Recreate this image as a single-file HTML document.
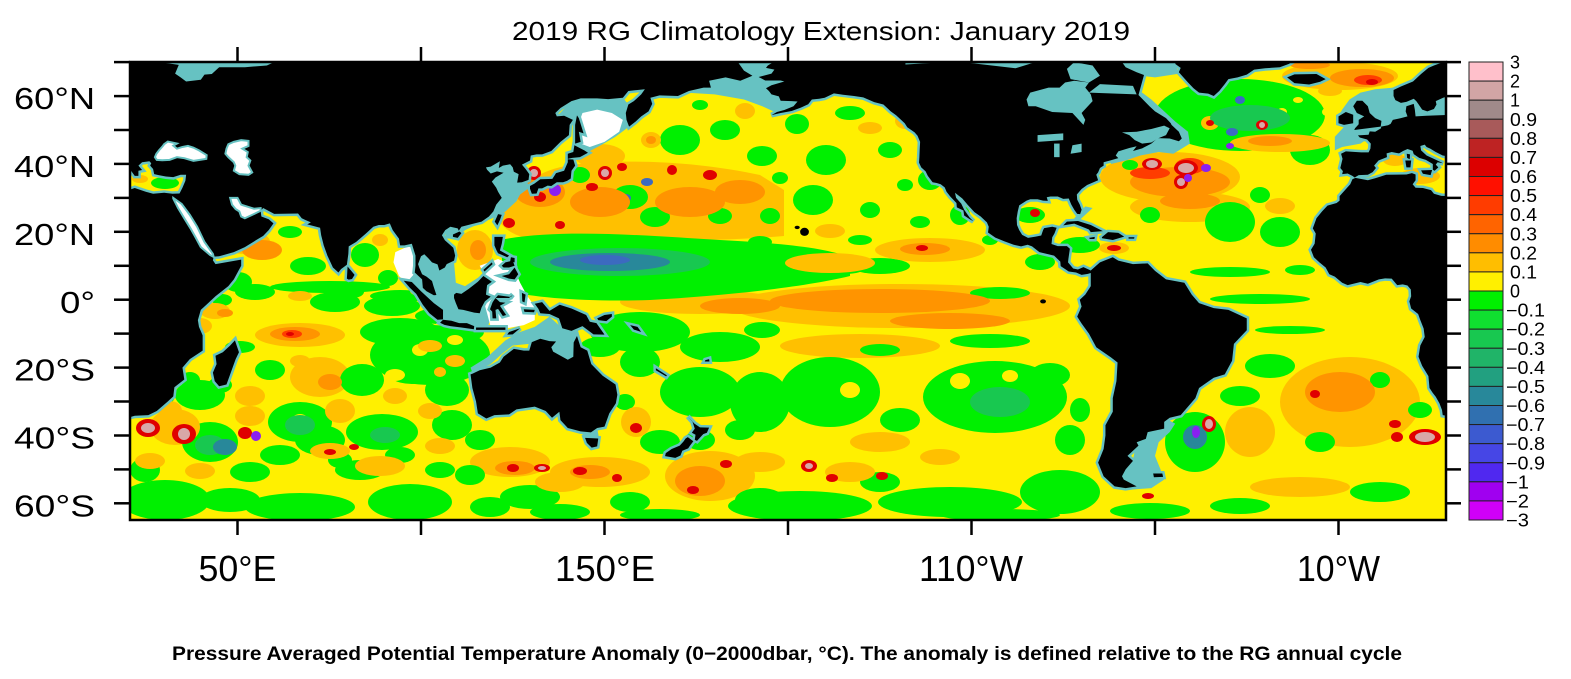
<!DOCTYPE html>
<html><head><meta charset="utf-8"><style>
html,body{margin:0;padding:0;background:#fff;}
svg{display:block}
.a{fill:#FFC000}.o{fill:#FF9400}.r3{fill:#FF3C00}.rd{fill:#E00000}.pk{fill:#D8A8A8}.v{fill:#8A20F0}
.g{fill:#00F000}.g2{fill:#18C850}.g5{fill:#28889A}.g6{fill:#3C6AC0}.yy{fill:#FFF000}
</style></head><body>
<svg width="1571" height="679" viewBox="0 0 1571 679" xmlns="http://www.w3.org/2000/svg" font-family="'Liberation Sans', sans-serif">
<defs>
<clipPath id="mc"><rect x="130" y="62" width="1316" height="458"/></clipPath>
<g id="land">
<polygon vector-effect="non-scaling-stroke" points="15,72 185,72 188,67.5 190.3,66 187,64.5 183,65.5 178.5,64.5 179,62.5 177,62.5 173,61.5 170,60 165,60.2 162.5,59.5 163,57.7 162,55.5 160,54 158.5,52.5 156.7,51 156,53 155.8,55 156.5,57.5 158,58.5 160,60.5 161,62 159,61.8 156.5,61.5 155,59.5 151,59.1 148,59.3 143.5,59.3 141,58.5 138,56.5 136.6,55 137,54 139,54.2 141.4,53 140.5,51.5 140.3,48.5 138,46.5 135.5,43.8 133,42.8 131.5,42.8 129.9,42.5 129.7,41 127.5,39.8 128.5,38.5 129.5,37 129.3,35.3 127.5,34.6 126.2,34.5 126.6,37 125.3,37.7 125,39 124.3,39.9 122.3,39.5 121.2,38.8 121.5,40.8 119,39.2 117.7,39 118,38.3 119,37.2 120.7,37.8 122.5,37.4 120.3,36 119.3,34.8 120.5,33 121,31.8 122,30 120.5,28 119.7,26 118.5,24.5 116.5,23 113.5,22.2 111,21.5 110.3,20.3 110,21 108,21.5 106.6,20.5 105.7,19 106.5,17.5 108.8,15.3 109.3,13 109,11.5 107,10.5 106.5,9.5 105,8.6 104.5,10.4 103,11 102,12.2 100.9,13.4 100,12.8 99.2,10.5 99.5,9.5 100.3,7.5 101.5,6.8 103,5.5 103.4,4 104.2,1.4 103.5,1.3 101.5,2.5 100.5,3.5 100.3,6 98.3,8 98.5,10 98.5,13 97.5,16.5 95.5,16 94.3,16 94,18 92.3,20.5 91.5,22.5 90,22 88.5,22 87,21.5 85,19.5 82.3,17 80.3,15.7 80.2,13.5 79.8,10.3 78.2,9 77.5,8 76,9.5 74.5,13 73.5,16 72.8,19 72.5,21.2 69,22.2 70,22.8 68.5,23.5 67.5,24 66.5,25.4 60,25.3 57,27 56.3,26.2 56.5,24.5 58.5,23.7 59.8,22.5 58.5,20.5 57,18.8 55,17.5 52,15.5 49,14 45,12.8 43.5,12.7 43.3,11.6 44,10.5 51,11.8 51,10 49,6 47.5,4 44,1 42,-1 40,-3 39.2,-6 39.5,-8 40.5,-10.5 40.5,-15 37,-17.5 35,-20 35.5,-23.5 32.8,-25.8 32.5,-28.5 31,-30 28,-32.8 25.7,-34 22,-34.2 20,-34.8 15,-34.8 15,32.2 20,32.2 22,32.9 25,31.8 27,31.2 30,31.5 32.3,31.2 34.2,31.3 35,33 35.8,35 36,36.8 34.5,36.8 32.5,36.1 30.5,36.3 28.5,36.7 27.3,37 27,38.5 26.2,39.5 26.5,40.2 26,40.8 24,40.5 23,39.5 24,38.2 23,38 23,36.5 22,36.5 21,38 20,39.5 15,39.5"/>
<polygon vector-effect="non-scaling-stroke" points="49.3,-12 50.4,-15.5 49.5,-17.5 48.5,-20.5 47,-25 45,-25.5 43.8,-24 43.3,-21.5 44.3,-19 44,-16.5 46,-15.5 48,-13.5"/>
<polygon vector-effect="non-scaling-stroke" points="79.8,6.2 80,9.8 81,8.5 81.9,7.3 81.2,6.1 80.3,5.9"/>
<polygon vector-effect="non-scaling-stroke" points="95.3,5.6 97.5,5.2 100,2.5 103.5,-1 106,-3 106,-5.8 104.5,-5.9 102.3,-4 100.5,-1.5 98.7,1.7 97,3.5"/>
<polygon vector-effect="non-scaling-stroke" points="105.2,-6.8 106,-5.9 108.3,-6.2 110.4,-6.9 112.5,-6.9 114.5,-7.8 114.4,-8.7 111,-8.2 108,-7.8 106.4,-7.4"/>
<polygon vector-effect="non-scaling-stroke" points="115,-8.2 119,-8.2 123,-8.2 123,-8.9 119,-8.9 115,-8.9"/>
<polygon vector-effect="non-scaling-stroke" points="124,-9.5 127,-8.4 125,-10.2 123.5,-10.3"/>
<polygon vector-effect="non-scaling-stroke" points="109,1.5 109.6,2 111,1.7 113,3.2 115.5,5.3 117,7 119.3,5.3 118,4.3 117.7,1.5 119,0.9 117.4,-0.5 116.5,-2.3 116,-4 114.5,-3.8 111.5,-3 110.2,-2.8 109.5,-1 109,0.5"/>
<polygon vector-effect="non-scaling-stroke" points="119.5,-5.5 120.5,-5.5 120.3,-3 121,-2.7 122.3,-4.8 123.2,-4.5 121.5,-1.8 123,-0.9 121.5,-0.7 120.3,0.5 124,0.5 125,1.5 124.5,0.8 121,1.3 120.1,0.2 119.5,-0.8 118.8,-2.8 119.4,-3.5"/>
<polygon vector-effect="non-scaling-stroke" points="127.5,2 128.5,1.5 128.2,-0.8 127.6,-0.5"/>
<polygon vector-effect="non-scaling-stroke" points="128,-2.8 131,-3 130.8,-3.7 128.2,-3.6"/>
<polygon vector-effect="non-scaling-stroke" points="120,18.5 122.3,18.5 122,16.5 121.5,14.5 124,13 123.5,12.5 121,13.7 120.6,14.5 120,16"/>
<polygon vector-effect="non-scaling-stroke" points="122,7 124,7.5 125.5,9.5 126.5,7.5 125.5,6 124,6.2"/>
<polygon vector-effect="non-scaling-stroke" points="122,10 123,11 125,11.5 125.5,10 124,9.5 122.5,9.5"/>
<polygon vector-effect="non-scaling-stroke" points="124.5,12.5 125.5,12.3 125.5,11 124.3,11.3"/>
<polygon vector-effect="non-scaling-stroke" points="117.3,8.3 119.5,10.5 119.3,11 117,8.8"/>
<polygon vector-effect="non-scaling-stroke" points="131,-1.2 133,-0.7 135,-3.3 137.8,-1.5 141,-2.6 145,-4.5 146,-6.5 147.8,-6.9 150,-10.3 147,-10.2 144,-7.8 141,-9.2 138.5,-8.4 137.6,-5.5 135,-4.2 132.5,-4 132,-2.7"/>
<polygon vector-effect="non-scaling-stroke" points="148,-5.5 150,-4.5 152,-4.2 152,-5 150.5,-6.3 148.3,-6"/>
<polygon vector-effect="non-scaling-stroke" points="157,-7.5 159,-8 160,-9.5 158,-8.8"/>
<polygon vector-effect="non-scaling-stroke" points="164,-20.2 167,-22.3 166.8,-22.6 164,-20.8"/>
<polygon vector-effect="non-scaling-stroke" points="177.5,-17.8 178.5,-17.5 178.6,-18.2 177.3,-18.2"/>
<polygon vector-effect="non-scaling-stroke" points="113.5,-22 114,-26 115,-30 115.5,-33.5 117.8,-35 120,-34 124,-33.8 126,-32.3 131,-31.5 134,-32.8 135.7,-34.8 137.7,-33 138,-35.5 140,-37.8 143.5,-38.8 146.3,-39.1 148,-37.8 150,-37.4 151.3,-33.5 153.1,-30.5 153.5,-28 153,-25 151,-23.5 149.5,-22.4 146.4,-19 145.3,-15 143.5,-14 142.5,-10.7 141.6,-12.6 141.5,-16.8 140,-17.7 136,-15.3 135.5,-14 136.8,-12.3 135,-12.2 132.5,-11.5 130.2,-12.5 129.5,-15 128,-15 125.3,-14.5 122.5,-16.8 121.5,-18.5 119,-20 116,-20.8 114,-21.8"/>
<polygon vector-effect="non-scaling-stroke" points="144.7,-40.7 148.3,-40.9 148,-43.2 146.5,-43.6 145.2,-42.2"/>
<polygon vector-effect="non-scaling-stroke" points="172.7,-34.4 174.5,-36.5 176,-37.6 178.5,-37.7 177.9,-39.2 176.9,-39.6 175.2,-41.6 174.6,-41.3 174.8,-39.8 173.8,-39.2 174.6,-38 174,-36"/>
<polygon vector-effect="non-scaling-stroke" points="172.7,-40.5 174.2,-41.7 173.3,-43 172.8,-43.8 171.2,-44.5 170.7,-45.9 169.3,-46.6 166.5,-46.1 166.7,-45.2 168.3,-44 170.5,-43 171.5,-41.8 172.1,-40.9"/>
<polygon vector-effect="non-scaling-stroke" points="129.7,33.5 130.9,34.2 132.5,35.5 135.8,35.6 136.8,37.3 139,38 140,40.5 140,41.4 141.5,41.3 142,39.5 141,38 140.8,35.7 139.8,35 138.7,34.6 137,34.6 135.5,33.5 134.5,33.6 133,32.8 132,32.8 131.5,31.3 130.2,31.2 129.7,32.7"/>
<polygon vector-effect="non-scaling-stroke" points="140,41.5 141.2,41.8 143.3,42 145.5,43.3 144.5,44 141.8,45.5 141.5,43.5 140,43"/>
<polygon vector-effect="non-scaling-stroke" points="142,46 143.5,46.5 143,49.5 144.3,49 143,53.5 142.5,54.3 142,51.5"/>
<polygon vector-effect="non-scaling-stroke" points="120.1,23 121,25.2 122,25 121.5,23.5 120.8,21.9"/>
<polygon vector-effect="non-scaling-stroke" points="108.7,19.2 110.5,20.1 111,19.6 110,18.2 108.7,18.5"/>
<polygon vector-effect="non-scaling-stroke" points="196,72 290,72 291,70 292,68.5 295,67 297,66.2 295.5,60.3 298.5,57 300,55.5 303,53.5 304.3,52 304.5,51.5 306.5,49.5 307.3,47.5 306.5,46.7 304,47.5 300.7,47.6 299,46 296.5,44.6 294,43.8 295,45.2 293,44.7 290,43.7 289.3,42.5 290,41.7 288,41.1 286,40.5 286,39.5 285,38.8 284.5,37.5 284,36.8 284.5,35.2 283,34.5 281.5,33.8 280,32.6 278.7,31 278.8,29.5 279.5,28 280,26.5 279.6,25.2 278.8,25.3 278,26.5 277.2,28 276.5,29.8 275,29.7 273.5,30.4 271.5,30.4 270.5,30.2 270.8,29.1 269.5,29.2 268,29.6 266,29.6 265,29.2 263,27.8 262.6,26 262.3,24 262.4,22 263,20.5 263.8,19.1 265.4,18.2 267.5,18.6 269,18.9 269.5,20.5 269.8,21.1 272,21.5 273.2,21.2 272.6,19.5 272,18.4 271.8,16.4 273.5,15.8 276,15.8 276.8,15 276.4,12 276.3,11 277.7,9.2 279,8.9 280.5,9.6 282.5,8.6 282.6,7.9 281.7,7.6 280,7.3 278.5,8 276.5,8.3 274.3,9.9 274.2,11.2 272.5,13 270.5,13.5 268.5,14 266.5,15.7 265.3,16.2 263.5,15.7 261.5,16.2 259,17.2 256.5,18.3 254.5,19.8 254.7,21.5 254.2,22.8 252.5,24.5 250.8,25.8 249,27.9 247.5,29.8 245.5,31.5 245.8,30 247.2,28.3 248,26.5 249.5,24.2 250.5,23.1 249.7,23.6 248,24.8 247.8,26.3 246,27.2 245.9,28.5 244.3,30.3 243.2,31.8 242.7,33.1 241.6,34 240.5,34.4 239.4,34.6 238.1,36.5 237.5,37.8 236.3,39 235.7,40.4 235.8,42 235.9,44.5 236,46.5 235.3,48.3 234.5,49.3 232.5,50.8 231.8,52 229.5,54.3 228,55.5 226,57.5 223.5,58.2 220.5,59.6 218,60 215,60.4 212.5,60.8 210,59.5 208.5,59.2 206.5,59 205.5,57.6 203.5,56.6 201,55.6 198,55 195.5,54.4 197,55.3 199,55.9 201.5,57 202.6,58.4 201,58.5 198,58.6 197.5,59.9 195.5,60.5 194.8,61.5 194,62.3 195.5,63.2 199,64.3 198,64.6 193.8,64.6 192,65.6 195.5,66.6 196.3,67.8 194,68.3 194.5,69 196,70"/>
<polygon vector-effect="non-scaling-stroke" points="306,72 338,72 338,70.5 336.5,69.5 334,68.5 330,68.2 327,67.8 325,66.3 322.5,65.5 320,65 319,63.5 317.5,61.5 316,60 314.5,60.7 312,61 310.5,62.3 309,64 307.5,65.8 306.5,67 307,68.3 305.5,69.5 306,70.5"/>
<polygon vector-effect="non-scaling-stroke" points="336,65.5 338,66.4 344,66.5 346.5,65 345,64.2 342,63.4 338,63.8"/>
<polygon vector-effect="non-scaling-stroke" points="275,21.9 276,23 279,23.2 282.5,22 285.8,20.2 282.5,19.9 282,20.7 278,22.4"/>
<polygon vector-effect="non-scaling-stroke" points="285.5,18.4 287.2,19.9 290,19.7 291.6,18.6 288.5,17.6 285.6,18.1"/>
<polygon vector-effect="non-scaling-stroke" points="282,18.2 283.6,18.5 283.5,17.9 282.3,17.9"/>
<polygon vector-effect="non-scaling-stroke" points="292.8,18.4 294.4,18.4 294.3,18 292.8,18"/>
<polygon vector-effect="non-scaling-stroke" points="282.5,8.6 285,11 288.5,12.5 290,11.5 294,10.5 298,10.7 300,8.5 303,6 308,5 310,1.5 312,-1 316,-2.5 320,-3 325,-5.5 325,-9 321.5,-13 321,-18 319,-22 316,-23 312,-26 311,-29 309,-31.5 307,-34 304,-34.8 302.5,-36 302.5,-38 298,-39 297.5,-41 295,-42 295.5,-43 292.5,-46 294,-47.5 292,-50 291,-52 291.5,-53 295,-55 292,-55.5 289,-55 286,-52 284.5,-48 286,-44 286.5,-40 286.5,-37 288.5,-33 288.5,-29 289.5,-24 289.8,-18.5 288,-17 284,-14 282,-10 280,-7 278.8,-5 280,-2 279.5,0 281,1.5 282.5,4 282.5,7"/>
<polygon vector-effect="non-scaling-stroke" points="299.5,-51.2 302,-51.2 302.2,-52.2 299.7,-52.3"/>
<polygon vector-effect="non-scaling-stroke" points="381,72 378.5,70 376,69 374.5,68.3 372.5,66.5 370.3,64.3 367,62.8 365,61.8 365,60 365.5,58.8 367,58 368.5,58.3 370.5,59.2 371.2,58.5 371.8,57.6 372.8,56 374.2,55.5 376,56.2 376.7,57.5 376.5,58.5 378.5,59.5 381,60.3"/>
<polygon vector-effect="non-scaling-stroke" points="381,54.5 374,54.2 371,54 370.8,56 370.5,57.7 368.5,57 368.3,55.5 368.8,54 367,53.5 364.8,53 364.2,51.8 363.5,51.4 361.6,51 361.6,50.5 360,49.5 358.5,49.6 358.2,48.6 355.3,48.4 355.8,47.8 357.8,47.2 358.8,46 358.7,44.5 358.2,43.4 356.2,43.4 352,43.7 350.7,43 351.1,41.5 350.5,38.8 351.2,37.9 351,37 352.5,37.2 353.8,36.5 354.4,36 355.5,36.7 358,36.8 359.3,37.6 360.2,38.8 359.7,39.5 360.9,41 363.2,42 363.1,43.1 364.5,43.5 366.5,43.1 367.6,43.8 368.8,44.4 370.2,43.9 370.5,42.9 372,41.8 373.8,41.2 375.7,40 375.7,38.3 376.2,38 377.2,39 376.5,39.8 377,40.5 378.5,40.2 376,41.5 374,42.5 372.5,44 372.3,45.3 373.5,45.7 374,45 375,44.5 376.5,43.5 378.4,42.5 381,42"/>
<polygon vector-effect="non-scaling-stroke" points="372.5,38.1 375.5,38.2 375.1,36.7 373,37.1"/>
<polygon vector-effect="non-scaling-stroke" points="368.2,41 369.8,41 369.6,39 368.5,39"/>
<polygon vector-effect="non-scaling-stroke" points="368.6,43 369.5,42.8 369.4,41.4 368.7,41.8"/>
<polygon vector-effect="non-scaling-stroke" points="354.3,50 361.5,51 361.7,52.7 360,53.5 358.5,55 358,57 356.5,58.6 355,58.6 354,57 355,55 357,54 355.5,53 355.5,51.7 354.5,50.5"/>
<polygon vector-effect="non-scaling-stroke" points="354,52 354,54.5 352,55.3 350,54 350,52 351.5,51.5"/>
<polygon vector-effect="non-scaling-stroke" points="381,30.5 378,30.6 376,31.2 375.2,32.3 373,32.9 371,33 370.2,34 371,35.2 371,36.9 370,37.3 368.5,36.9 363,36.8 360,35.8 358,35.2 354.6,35.9 353.8,35.5 353.2,34 350.3,30.5 350.3,29.2 349.5,28.5 347,27.7 345.5,26 344,24 343,21 343.8,19.5 343.5,16.5 342.5,14.7 343.3,12.5 344.8,11 346.5,9.5 347.5,7.5 349,6.8 351,5 352.5,4.3 356,5.2 358,4.7 361,6 362.7,6.3 364.5,6.2 366,4.3 367.5,4.5 368.8,4.2 369.7,3 369.8,1 369.3,-0.5 369.8,-2.6 371.7,-4.2 372.3,-6 373.2,-8.5 373.5,-11 372.3,-13.5 371.8,-16.8 372.8,-19.5 374.5,-22.5 374.8,-26 375.7,-27.5 376.5,-28.6 377.5,-30.5 378.2,-32.5 378.4,-34 381,-34.5"/>
</g>
</defs>

<rect x="0" y="0" width="1571" height="679" fill="#fff"/>

<g clip-path="url(#mc)">
<rect x="130" y="62" width="1316" height="458" fill="#FFF000"/>

<g class="a">
<path d="M500,222 C505,195 530,172 570,165 C630,158 700,162 760,175 L784,190 L784,236 C720,242 640,240 580,242 C540,244 510,238 500,222 Z"/>
<ellipse cx="900" cy="306" rx="170" ry="22"/><ellipse cx="700" cy="302" rx="80" ry="12"/><ellipse cx="860" cy="346" rx="80" ry="12"/>
<ellipse cx="1350" cy="402" rx="70" ry="45"/><ellipse cx="1170" cy="177" rx="70" ry="25"/><ellipse cx="1190" cy="207" rx="60" ry="15"/>
<ellipse cx="710" cy="476" rx="45" ry="25"/><ellipse cx="600" cy="472" rx="50" ry="15"/><ellipse cx="510" cy="462" rx="40" ry="15"/>
<ellipse cx="475" cy="250" rx="18" ry="20"/><ellipse cx="300" cy="335" rx="45" ry="12"/><ellipse cx="320" cy="377" rx="30" ry="20"/>
</g>

<g class="g">
<path d="M500,240 C560,228 650,236 720,240 C780,243 830,248 850,258 L850,276 C800,288 720,296 650,300 C590,302 530,298 505,290 Z"/>
<ellipse cx="165" cy="183" rx="14" ry="6"/><ellipse cx="290" cy="232" rx="12" ry="6"/><ellipse cx="308" cy="266" rx="18" ry="9"/>
<ellipse cx="238" cy="282" rx="14" ry="10"/><ellipse cx="222" cy="300" rx="10" ry="6"/><ellipse cx="365" cy="255" rx="14" ry="12"/>
<ellipse cx="388" cy="278" rx="10" ry="8"/><ellipse cx="352" cy="292" rx="12" ry="6"/><ellipse cx="255" cy="292" rx="20" ry="8"/>
<ellipse cx="335" cy="302" rx="25" ry="10"/><ellipse cx="392" cy="306" rx="28" ry="10"/><ellipse cx="440" cy="316" rx="25" ry="8"/>
<ellipse cx="470" cy="300" rx="15" ry="8"/><ellipse cx="400" cy="332" rx="40" ry="14"/><ellipse cx="462" cy="332" rx="22" ry="10"/>
<ellipse cx="240" cy="347" rx="15" ry="6"/><ellipse cx="270" cy="370" rx="15" ry="10"/><ellipse cx="362" cy="380" rx="22" ry="16"/>
<ellipse cx="412" cy="366" rx="30" ry="18"/><ellipse cx="447" cy="390" rx="22" ry="16"/><ellipse cx="220" cy="385" rx="12" ry="8"/>
<ellipse cx="190" cy="380" rx="10" ry="8"/><ellipse cx="300" cy="422" rx="32" ry="20"/><ellipse cx="382" cy="432" rx="36" ry="18"/>
<ellipse cx="210" cy="442" rx="28" ry="20"/><ellipse cx="452" cy="425" rx="20" ry="15"/><ellipse cx="447" cy="362" rx="20" ry="25"/>
<ellipse cx="165" cy="500" rx="45" ry="20"/><ellipse cx="300" cy="507" rx="55" ry="14"/><ellipse cx="410" cy="502" rx="42" ry="18"/>
<ellipse cx="250" cy="472" rx="20" ry="10"/><ellipse cx="440" cy="470" rx="15" ry="8"/><ellipse cx="480" cy="440" rx="15" ry="10"/>
<ellipse cx="530" cy="497" rx="30" ry="12"/><ellipse cx="490" cy="507" rx="20" ry="10"/><ellipse cx="145" cy="470" rx="15" ry="12"/>
<ellipse cx="340" cy="460" rx="12" ry="8"/><ellipse cx="400" cy="455" rx="15" ry="8"/>
<ellipse cx="680" cy="140" rx="20" ry="15"/><ellipse cx="725" cy="130" rx="15" ry="10"/><ellipse cx="762" cy="156" rx="15" ry="10"/>
<ellipse cx="620" cy="122" rx="10" ry="8"/><ellipse cx="700" cy="105" rx="8" ry="5"/><ellipse cx="580" cy="175" rx="10" ry="8"/>
<ellipse cx="630" cy="197" rx="18" ry="12"/><ellipse cx="655" cy="217" rx="15" ry="10"/><ellipse cx="720" cy="216" rx="12" ry="8"/>
<ellipse cx="770" cy="216" rx="10" ry="8"/><ellipse cx="880" cy="266" rx="30" ry="8"/><ellipse cx="640" cy="332" rx="50" ry="20"/>
<ellipse cx="720" cy="347" rx="40" ry="15"/><ellipse cx="600" cy="347" rx="20" ry="10"/><ellipse cx="762" cy="330" rx="18" ry="8"/>
<ellipse cx="850" cy="113" rx="15" ry="7"/><ellipse cx="797" cy="124" rx="12" ry="10"/><ellipse cx="813" cy="200" rx="20" ry="15"/>
<ellipse cx="826" cy="160" rx="20" ry="15"/><ellipse cx="890" cy="150" rx="12" ry="8"/><ellipse cx="930" cy="180" rx="12" ry="10"/>
<ellipse cx="870" cy="210" rx="10" ry="8"/><ellipse cx="960" cy="215" rx="10" ry="10"/><ellipse cx="760" cy="242" rx="12" ry="6"/>
<ellipse cx="905" cy="185" rx="8" ry="6"/><ellipse cx="845" cy="268" rx="20" ry="6"/><ellipse cx="1000" cy="293" rx="30" ry="6"/>
<ellipse cx="990" cy="341" rx="40" ry="7"/><ellipse cx="800" cy="276" rx="10" ry="5"/><ellipse cx="1040" cy="262" rx="15" ry="8"/>
<ellipse cx="700" cy="392" rx="40" ry="25"/><ellipse cx="660" cy="442" rx="20" ry="12"/><ellipse cx="760" cy="402" rx="30" ry="30"/>
<ellipse cx="830" cy="392" rx="50" ry="35"/><ellipse cx="995" cy="397" rx="72" ry="36"/><ellipse cx="800" cy="506" rx="72" ry="15"/>
<ellipse cx="950" cy="502" rx="72" ry="15"/><ellipse cx="1060" cy="492" rx="40" ry="22"/><ellipse cx="880" cy="482" rx="20" ry="10"/>
<ellipse cx="640" cy="362" rx="20" ry="15"/><ellipse cx="625" cy="402" rx="10" ry="8"/><ellipse cx="630" cy="502" rx="20" ry="10"/>
<ellipse cx="900" cy="420" rx="20" ry="12"/><ellipse cx="1070" cy="440" rx="15" ry="15"/><ellipse cx="760" cy="500" rx="25" ry="12"/>
<ellipse cx="1030" cy="215" rx="15" ry="8"/><ellipse cx="1080" cy="245" rx="20" ry="8"/><ellipse cx="1130" cy="165" rx="8" ry="5"/>
<ellipse cx="1215" cy="185" rx="6" ry="5"/><ellipse cx="1240" cy="115" rx="85" ry="36"/><ellipse cx="1310" cy="150" rx="20" ry="15"/>
<ellipse cx="1230" cy="222" rx="25" ry="20"/><ellipse cx="1280" cy="232" rx="20" ry="15"/>
<ellipse cx="1150" cy="215" rx="10" ry="8"/><ellipse cx="1260" cy="195" rx="10" ry="8"/><ellipse cx="1230" cy="272" rx="40" ry="5"/>
<ellipse cx="1260" cy="299" rx="50" ry="5"/><ellipse cx="1290" cy="330" rx="35" ry="4"/><ellipse cx="1165" cy="286" rx="20" ry="6"/>
<ellipse cx="1270" cy="366" rx="25" ry="12"/><ellipse cx="1320" cy="442" rx="15" ry="10"/><ellipse cx="1380" cy="380" rx="10" ry="8"/>
<ellipse cx="1420" cy="410" rx="12" ry="8"/><ellipse cx="1240" cy="396" rx="20" ry="10"/><ellipse cx="1195" cy="442" rx="30" ry="30"/>
<ellipse cx="1380" cy="492" rx="30" ry="10"/><ellipse cx="1240" cy="506" rx="30" ry="8"/><ellipse cx="1150" cy="511" rx="40" ry="8"/>
<ellipse cx="1400" cy="185" rx="10" ry="5"/><ellipse cx="1175" cy="360" rx="12" ry="8"/><ellipse cx="1300" cy="270" rx="15" ry="5"/>
<ellipse cx="430" cy="355" rx="60" ry="30"/><ellipse cx="330" cy="287" rx="60" ry="6"/><ellipse cx="400" cy="296" rx="30" ry="6"/>
<ellipse cx="200" cy="395" rx="25" ry="15"/><ellipse cx="160" cy="395" rx="15" ry="12"/><ellipse cx="320" cy="440" rx="25" ry="15"/>
<ellipse cx="280" cy="455" rx="20" ry="10"/><ellipse cx="360" cy="470" rx="25" ry="10"/><ellipse cx="230" cy="500" rx="30" ry="12"/>
<ellipse cx="470" cy="475" rx="15" ry="10"/><ellipse cx="560" cy="512" rx="30" ry="8"/><ellipse cx="660" cy="515" rx="40" ry="6"/>
<ellipse cx="1000" cy="515" rx="60" ry="6"/><ellipse cx="940" cy="110" rx="12" ry="8"/><ellipse cx="975" cy="160" rx="10" ry="8"/>
<ellipse cx="780" cy="178" rx="8" ry="6"/><ellipse cx="860" cy="240" rx="12" ry="5"/><ellipse cx="920" cy="222" rx="10" ry="6"/>
<ellipse cx="990" cy="240" rx="8" ry="5"/><ellipse cx="1000" cy="185" rx="6" ry="8"/><ellipse cx="700" cy="440" rx="15" ry="10"/>
<ellipse cx="740" cy="430" rx="15" ry="10"/><ellipse cx="1050" cy="375" rx="20" ry="12"/><ellipse cx="1080" cy="410" rx="10" ry="12"/>
<ellipse cx="880" cy="350" rx="20" ry="6"/>
</g>
<g class="yy">
<ellipse cx="960" cy="381" rx="10" ry="8"/><ellipse cx="1010" cy="376" rx="8" ry="6"/><ellipse cx="850" cy="390" rx="10" ry="8"/><ellipse cx="300" cy="420" rx="8" ry="6"/>
<ellipse cx="420" cy="350" rx="8" ry="6"/><ellipse cx="455" cy="340" rx="8" ry="5"/><ellipse cx="395" cy="375" rx="10" ry="6"/><ellipse cx="480" cy="370" rx="6" ry="5"/>
<ellipse cx="1298" cy="100" rx="5" ry="3"/><ellipse cx="1282" cy="112" rx="5" ry="4"/><ellipse cx="1327" cy="112" rx="5" ry="4"/>
</g>

<g class="a">
<ellipse cx="245" cy="242" rx="25" ry="12"/><ellipse cx="215" cy="311" rx="15" ry="8"/><ellipse cx="380" cy="240" rx="8" ry="6"/>
<ellipse cx="300" cy="296" rx="12" ry="5"/><ellipse cx="420" cy="291" rx="10" ry="5"/><ellipse cx="200" cy="326" rx="12" ry="8"/>
<ellipse cx="430" cy="346" rx="12" ry="6"/><ellipse cx="300" cy="361" rx="10" ry="6"/><ellipse cx="250" cy="396" rx="15" ry="10"/>
<ellipse cx="395" cy="396" rx="12" ry="8"/><ellipse cx="455" cy="361" rx="10" ry="6"/><ellipse cx="340" cy="411" rx="15" ry="12"/>
<ellipse cx="250" cy="416" rx="15" ry="10"/><ellipse cx="430" cy="411" rx="12" ry="8"/><ellipse cx="170" cy="411" rx="12" ry="10"/>
<ellipse cx="440" cy="446" rx="15" ry="8"/><ellipse cx="175" cy="427" rx="25" ry="18"/><ellipse cx="330" cy="451" rx="20" ry="8"/>
<ellipse cx="380" cy="466" rx="25" ry="10"/><ellipse cx="150" cy="461" rx="15" ry="8"/><ellipse cx="200" cy="471" rx="15" ry="8"/>
<ellipse cx="560" cy="482" rx="25" ry="10"/><ellipse cx="651" cy="140" rx="10" ry="8"/><ellipse cx="600" cy="156" rx="25" ry="12"/>
<ellipse cx="745" cy="111" rx="10" ry="8"/><ellipse cx="930" cy="250" rx="55" ry="12"/><ellipse cx="830" cy="263" rx="45" ry="10"/>
<ellipse cx="870" cy="128" rx="12" ry="6"/><ellipse cx="905" cy="121" rx="10" ry="8"/><ellipse cx="830" cy="231" rx="15" ry="7"/>
<ellipse cx="950" cy="141" rx="8" ry="6"/><ellipse cx="880" cy="442" rx="30" ry="10"/><ellipse cx="760" cy="462" rx="25" ry="10"/>
<ellipse cx="940" cy="457" rx="20" ry="8"/><ellipse cx="636" cy="422" rx="15" ry="15"/><ellipse cx="850" cy="472" rx="25" ry="10"/>
<ellipse cx="1114" cy="248" rx="15" ry="6"/><ellipse cx="1210" cy="123" rx="9" ry="7"/><ellipse cx="1330" cy="91" rx="12" ry="5"/>
<ellipse cx="1340" cy="76" rx="58" ry="14"/><ellipse cx="1280" cy="206" rx="15" ry="8"/><ellipse cx="1280" cy="143" rx="50" ry="9"/>
<ellipse cx="1250" cy="432" rx="25" ry="25"/><ellipse cx="1300" cy="487" rx="50" ry="10"/><ellipse cx="1420" cy="176" rx="20" ry="8"/>
<ellipse cx="1395" cy="160" rx="12" ry="6"/><ellipse cx="140" cy="179" rx="8" ry="4"/><ellipse cx="440" cy="372" rx="6" ry="5"/>
</g>
<g class="g2">
<ellipse cx="1250" cy="118" rx="40" ry="13"/><ellipse cx="1000" cy="402" rx="30" ry="15"/><ellipse cx="620" cy="262" rx="90" ry="14"/>
<ellipse cx="210" cy="445" rx="15" ry="10"/><ellipse cx="300" cy="425" rx="15" ry="10"/><ellipse cx="385" cy="435" rx="15" ry="8"/>
</g>
<g class="g5">
<ellipse cx="610" cy="262" rx="60" ry="9"/><ellipse cx="225" cy="447" rx="12" ry="8"/><ellipse cx="1195" cy="437" rx="12" ry="12"/>
</g>
<g class="g6">
<ellipse cx="605" cy="260" rx="25" ry="5"/><ellipse cx="647" cy="182" rx="6" ry="4"/><ellipse cx="626" cy="198" rx="5" ry="4"/>
<ellipse cx="1240" cy="100" rx="5" ry="4"/><ellipse cx="1232" cy="132" rx="6" ry="4"/>
</g>
<g class="o">
<ellipse cx="262" cy="250" rx="20" ry="10"/><ellipse cx="225" cy="313" rx="8" ry="4"/><ellipse cx="295" cy="334" rx="25" ry="7"/>
<ellipse cx="330" cy="382" rx="12" ry="8"/><ellipse cx="540" cy="192" rx="25" ry="15"/><ellipse cx="600" cy="202" rx="30" ry="15"/>
<ellipse cx="690" cy="202" rx="35" ry="15"/><ellipse cx="740" cy="192" rx="25" ry="12"/><ellipse cx="478" cy="250" rx="8" ry="10"/>
<ellipse cx="740" cy="306" rx="40" ry="8"/><ellipse cx="880" cy="301" rx="110" ry="12"/><ellipse cx="950" cy="321" rx="60" ry="8"/>
<ellipse cx="925" cy="249" rx="25" ry="6"/><ellipse cx="700" cy="481" rx="25" ry="15"/><ellipse cx="590" cy="472" rx="20" ry="7"/>
<ellipse cx="515" cy="468" rx="20" ry="7"/><ellipse cx="1180" cy="182" rx="50" ry="15"/><ellipse cx="1190" cy="201" rx="30" ry="8"/>
<ellipse cx="1340" cy="392" rx="35" ry="20"/><ellipse cx="651" cy="140" rx="5" ry="4"/><ellipse cx="1362" cy="78" rx="32" ry="9"/>
<ellipse cx="1310" cy="65" rx="20" ry="4"/><ellipse cx="1270" cy="141" rx="22" ry="5"/>
</g>
<g class="r3">
<ellipse cx="292" cy="334" rx="10" ry="4"/><ellipse cx="1150" cy="173" rx="20" ry="6"/><ellipse cx="1190" cy="166" rx="15" ry="8"/>
<ellipse cx="1368" cy="80" rx="14" ry="5"/>
</g>
<g class="rd">
<ellipse cx="290" cy="334" rx="4" ry="2"/><ellipse cx="148" cy="428" rx="12" ry="9"/><ellipse cx="184" cy="434" rx="12" ry="10"/>
<ellipse cx="245" cy="433" rx="7" ry="6"/><ellipse cx="330" cy="452" rx="6" ry="3"/><ellipse cx="354" cy="447" rx="5" ry="3"/>
<ellipse cx="513" cy="468" rx="6" ry="4"/><ellipse cx="542" cy="468" rx="8" ry="4"/><ellipse cx="509" cy="223" rx="6" ry="5"/>
<ellipse cx="534" cy="173" rx="7" ry="7"/><ellipse cx="540" cy="197" rx="6" ry="5"/><ellipse cx="605" cy="173" rx="7" ry="7"/>
<ellipse cx="592" cy="187" rx="6" ry="4"/><ellipse cx="622" cy="167" rx="5" ry="4"/><ellipse cx="672" cy="170" rx="5" ry="5"/>
<ellipse cx="710" cy="175" rx="7" ry="5"/><ellipse cx="560" cy="225" rx="5" ry="4"/><ellipse cx="922" cy="248" rx="6" ry="3"/>
<ellipse cx="693" cy="490" rx="6" ry="4"/><ellipse cx="726" cy="464" rx="6" ry="4"/><ellipse cx="809" cy="466" rx="8" ry="6"/>
<ellipse cx="832" cy="478" rx="6" ry="4"/><ellipse cx="882" cy="476" rx="6" ry="4"/><ellipse cx="636" cy="428" rx="6" ry="5"/>
<ellipse cx="580" cy="471" rx="7" ry="4"/><ellipse cx="617" cy="478" rx="5" ry="4"/><ellipse cx="1035" cy="213" rx="5" ry="4"/>
<ellipse cx="1114" cy="248" rx="7" ry="3"/><ellipse cx="1315" cy="394" rx="5" ry="4"/><ellipse cx="1395" cy="424" rx="6" ry="4"/>
<ellipse cx="1425" cy="437" rx="16" ry="8"/><ellipse cx="1397" cy="437" rx="6" ry="5"/><ellipse cx="1209" cy="424" rx="7" ry="8"/>
<ellipse cx="1148" cy="496" rx="6" ry="3"/><ellipse cx="1210" cy="123" rx="4" ry="3"/><ellipse cx="1152" cy="164" rx="10" ry="6"/>
<ellipse cx="1186" cy="168" rx="12" ry="8"/><ellipse cx="1181" cy="182" rx="7" ry="7"/><ellipse cx="1262" cy="125" rx="6" ry="5"/>
<ellipse cx="1372" cy="82" rx="6" ry="3"/>
</g>
<g class="pk">
<ellipse cx="148" cy="428" rx="7" ry="5"/><ellipse cx="184" cy="434" rx="6" ry="6"/><ellipse cx="534" cy="173" rx="4" ry="4"/>
<ellipse cx="605" cy="173" rx="4" ry="4"/><ellipse cx="542" cy="468" rx="4" ry="2"/><ellipse cx="809" cy="466" rx="4" ry="3"/>
<ellipse cx="1425" cy="437" rx="10" ry="5"/><ellipse cx="1209" cy="424" rx="4" ry="5"/><ellipse cx="1152" cy="164" rx="6" ry="4"/>
<ellipse cx="1186" cy="168" rx="8" ry="5"/><ellipse cx="1181" cy="182" rx="4" ry="4"/><ellipse cx="1262" cy="125" rx="3" ry="3"/>
</g>
<g class="v">
<ellipse cx="256" cy="436" rx="5" ry="5"/><ellipse cx="555" cy="190" rx="6" ry="6"/><ellipse cx="1206" cy="168" rx="5" ry="4"/>
<ellipse cx="1188" cy="178" rx="4" ry="4"/><ellipse cx="1196" cy="432" rx="4" ry="6"/><ellipse cx="1230" cy="146" rx="4" ry="3"/>
</g>

<g transform="matrix(3.67 0 0 -3.394 54 299.7)">
 <g fill="#66C2C2">
  <polygon points="137,54 141,58.5 148,59.5 155,59.5 156.5,57.5 156,55 156.7,51 153,48 149,45.5 145.5,43.5 143,44.5 142,46 142,52 141,53.5 139,54.2"/>
  <polygon points="117.5,39 121.5,41 124.5,40 126.5,37 126.3,34.5 129,34.5 129.5,33 127,31 126,29 123,26 121.5,25 119.5,24 117,23 114,21.5 112,20.5 110.5,19 108,18 106.5,18 107,21.5 110,21.5 113,22.5 117,24 120,27 121,31 120,34 119,36 118,38"/>
  <polygon points="98,14 101,14 105,11 109,11 109.5,5 112,4 117,7.5 118,4 119,0 119.5,-4 118,-8.5 115,-9 110,-8.5 106,-7 104,-6 102,-4 99,0 96,4.5 98,8"/>
  <polygon points="131,-8 135,-5 138.5,-8.4 141,-9.2 143,-9.5 142.5,-10.7 141.6,-12.6 141.5,-16.8 140,-17.7 136,-15.3 132,-11.2 129.5,-13 125,-13.5 122,-16 119,-19 114,-21.5 113.5,-20 118,-17 123,-12 127,-9.5"/>
  <polygon points="144,-38.3 148,-37.8 148.5,-40.8 144,-40.8"/>
  <polygon points="160,62 172,61 180,60.5 188,59 193,57 197,55 202,56.5 204,58 200,61.5 198,66 197,71 160,71"/>
  <polygon points="288,70.5 306,70.5 306,66.5 300,65.5 296,66 292,67"/>
  <polygon points="288,40 292,41 296,42.5 301,43.5 305,43 309.5,46 309,49.5 305.5,52.5 302,56 299,59 296.5,61 294,61 291,52 287,45"/>
  <polygon points="279,23 283,27 281,27.5 278,24"/>
  <polygon points="302,-34.5 305.5,-36.5 304,-39 301,-42 300,-46 301.5,-50 302.5,-53 299,-55.5 293,-56 289,-55 291,-52 294,-47 295,-42 298,-38.5 302,-36"/>
  <polygon points="349,48 352,51.5 350,54 351,56 353,59 356,61 360,62 365,62.5 370,64 376,68 381,70 381,53 370,53 365,51 362,49 358,47.5 356,46 351,45 349,44"/>
  <polygon points="370,53.5 381,53.5 381,61 376,59 372,57 370,55"/>
 </g>
 <g fill="#fff">
  <polygon points="143.5,46 146,45 150,46.5 154,49.5 155,53 152,55 148,56 144,55 143.5,53.5 144.5,50 143,48"/>
  <polygon points="93,14 98,16.5 98.5,13 98.5,8 96,5 94,7 92.5,11"/>
  <polygon points="116,10 121,12 125,10 127,5 129,1 131,-2 131,-6 128,-7.5 124,-8.3 119,-8 118,-4 117,0 118,5 117,8"/>
 </g>
 <use href="#land" fill="#66C2C2" stroke="#66C2C2" stroke-width="5"/>
 <use href="#land" fill="#000"/>
 <g fill="#66C2C2">
  <polygon points="265,59 265.5,57 267.5,57 272,55.3 277.5,55 280.5,51.5 281,53 280,55 283,58.5 282.5,60.5 281,62.5 282,64 278,64.5 275.5,64 274,62.5 271,62.5 266,61"/>
  <polygon points="277,65 282,64 285,66 283,69 278,70 276,68"/>
  <polygon points="282,61 295,60.5 294,63 285,63.5"/>
  <polygon points="295,49.5 299,50.3 302.5,51.3 304,50.5 303,48.5 301,47.6 299,46.3 296.5,46 294.5,47 293,48.5 291,49.3"/>
  <polygon points="20.7,70 60,70 58,69 52,68.5 45,68.5 43,66.5 41,66.3 40,64.8 36,64.3 34.5,65.5 33,66.6 34,69.2 30,69.8 25,70"/>
  <polygon points="232,69.3 246,70.2 262,68.2 268,70.2 268,70.6 232,70.6"/>
  <polygon points="268,46.5 275,47 275,49 268,48.5"/>
  <polygon points="272.5,42 274,42 274,46 272.5,46"/>
  <polygon points="277,43 280,43.5 280,46 277.5,45.5"/>
 </g>
 <g fill="#fff" stroke="#66C2C2" stroke-width="2">
  <polygon vector-effect="non-scaling-stroke" points="48,30 50,30 51,28 54.5,26.8 56.3,27 56.3,26.2 55,25.5 52,24 51,24.5 50.5,26 49.5,26.7 48.5,28"/>
  <polygon vector-effect="non-scaling-stroke" points="32.5,30 34.8,28.2 37,25 39,21.5 41,17 43.3,13.5 43.5,12.6 42.5,13.2 40,15.5 38.5,18.5 37.2,21 35.6,23.8 33.8,27 32.5,29.8"/>
  <polygon vector-effect="non-scaling-stroke" points="27.5,42 28,41.2 29.5,41.1 31.5,41.2 33.5,42 35.5,41.7 38,40.9 41.5,41.5 41.6,42.6 39.5,44 38,44.8 36.5,45.3 35,45 33.5,44.5 32.5,45.4 33.5,46 31,46.6 30,45.8 29.6,45.2 28.6,44 27.9,43"/>
  <polygon vector-effect="non-scaling-stroke" points="47,44.5 46.7,43 47.5,42 49,40.5 49.4,39.5 49,38 50.5,37 53,36.8 54,37.5 53,39.5 53.5,41 52.5,42 52.8,43.5 51.3,44.5 53,45.3 53,46.8 51,47 49,46.5 47.5,45.8"/>
 </g>
 <g fill="#000">
  <ellipse cx="204.5" cy="20" rx="1.2" ry="1.2"/><ellipse cx="202.5" cy="21.3" rx="0.7" ry="0.5"/>
  <ellipse cx="269.5" cy="-0.5" rx="0.8" ry="0.6"/>
 </g>
</g>
</g>

<rect x="130" y="62" width="1316" height="458" fill="none" stroke="#000" stroke-width="2.5"/>

<g stroke="#000" stroke-width="2.5">
<line x1="114" y1="62.1" x2="130" y2="62.1"/><line x1="114" y1="96.1" x2="130" y2="96.1"/><line x1="114" y1="130" x2="130" y2="130"/>
<line x1="114" y1="163.9" x2="130" y2="163.9"/><line x1="114" y1="197.9" x2="130" y2="197.9"/><line x1="114" y1="231.8" x2="130" y2="231.8"/>
<line x1="114" y1="265.8" x2="130" y2="265.8"/><line x1="114" y1="299.7" x2="130" y2="299.7"/><line x1="114" y1="333.6" x2="130" y2="333.6"/>
<line x1="114" y1="367.6" x2="130" y2="367.6"/><line x1="114" y1="401.5" x2="130" y2="401.5"/><line x1="114" y1="435.5" x2="130" y2="435.5"/>
<line x1="114" y1="469.4" x2="130" y2="469.4"/><line x1="114" y1="503.3" x2="130" y2="503.3"/>
<line x1="1446" y1="62.1" x2="1461" y2="62.1"/><line x1="1446" y1="96.1" x2="1461" y2="96.1"/><line x1="1446" y1="130" x2="1461" y2="130"/>
<line x1="1446" y1="163.9" x2="1461" y2="163.9"/><line x1="1446" y1="197.9" x2="1461" y2="197.9"/><line x1="1446" y1="231.8" x2="1461" y2="231.8"/>
<line x1="1446" y1="265.8" x2="1461" y2="265.8"/><line x1="1446" y1="299.7" x2="1461" y2="299.7"/><line x1="1446" y1="333.6" x2="1461" y2="333.6"/>
<line x1="1446" y1="367.6" x2="1461" y2="367.6"/><line x1="1446" y1="401.5" x2="1461" y2="401.5"/><line x1="1446" y1="435.5" x2="1461" y2="435.5"/>
<line x1="1446" y1="469.4" x2="1461" y2="469.4"/><line x1="1446" y1="503.3" x2="1461" y2="503.3"/>
<line x1="237.5" y1="47" x2="237.5" y2="62"/><line x1="421" y1="47" x2="421" y2="62"/><line x1="604.5" y1="47" x2="604.5" y2="62"/>
<line x1="788" y1="47" x2="788" y2="62"/><line x1="971.5" y1="47" x2="971.5" y2="62"/><line x1="1155" y1="47" x2="1155" y2="62"/><line x1="1338.5" y1="47" x2="1338.5" y2="62"/>
<line x1="237.5" y1="520" x2="237.5" y2="535"/><line x1="421" y1="520" x2="421" y2="535"/><line x1="604.5" y1="520" x2="604.5" y2="535"/>
<line x1="788" y1="520" x2="788" y2="535"/><line x1="971.5" y1="520" x2="971.5" y2="535"/><line x1="1155" y1="520" x2="1155" y2="535"/><line x1="1338.5" y1="520" x2="1338.5" y2="535"/>
</g>

<g font-size="31" fill="#000" text-anchor="end">
<text x="95" y="109" textLength="81" lengthAdjust="spacingAndGlyphs">60°N</text>
<text x="95" y="177" textLength="81" lengthAdjust="spacingAndGlyphs">40°N</text>
<text x="95" y="245" textLength="81" lengthAdjust="spacingAndGlyphs">20°N</text>
<text x="95" y="313" textLength="35" lengthAdjust="spacingAndGlyphs">0°</text>
<text x="95" y="380.5" textLength="81" lengthAdjust="spacingAndGlyphs">20°S</text>
<text x="95" y="448.5" textLength="81" lengthAdjust="spacingAndGlyphs">40°S</text>
<text x="95" y="516.3" textLength="81" lengthAdjust="spacingAndGlyphs">60°S</text>
</g>
<g font-size="36" fill="#000">
<text x="198.5" y="581" textLength="78" lengthAdjust="spacingAndGlyphs">50°E</text>
<text x="555" y="581" textLength="100" lengthAdjust="spacingAndGlyphs">150°E</text>
<text x="919" y="581" textLength="104" lengthAdjust="spacingAndGlyphs">110°W</text>
<text x="1297" y="581" textLength="83" lengthAdjust="spacingAndGlyphs">10°W</text>
</g>

<text x="512" y="40" font-size="26" fill="#000" textLength="618" lengthAdjust="spacingAndGlyphs">2019 RG Climatology Extension: January 2019</text>
<text x="172" y="660" font-size="19" font-weight="bold" fill="#000" textLength="1230" lengthAdjust="spacingAndGlyphs">Pressure Averaged Potential Temperature Anomaly (0−2000dbar, °C). The anomaly is defined relative to the RG annual cycle</text>

<g stroke="#222" stroke-width="1">
<rect x="1469" y="62" width="34" height="19.08" fill="#FFC0CB"/>
<rect x="1469" y="81.08" width="34" height="19.08" fill="#D2A5A5"/>
<rect x="1469" y="100.17" width="34" height="19.08" fill="#A08A8A"/>
<rect x="1469" y="119.25" width="34" height="19.08" fill="#A85A5A"/>
<rect x="1469" y="138.33" width="34" height="19.08" fill="#BE2323"/>
<rect x="1469" y="157.42" width="34" height="19.08" fill="#DC0000"/>
<rect x="1469" y="176.5" width="34" height="19.08" fill="#FF1000"/>
<rect x="1469" y="195.58" width="34" height="19.08" fill="#FF3C00"/>
<rect x="1469" y="214.67" width="34" height="19.08" fill="#FF6400"/>
<rect x="1469" y="233.75" width="34" height="19.08" fill="#FF8C00"/>
<rect x="1469" y="252.83" width="34" height="19.08" fill="#FFBE00"/>
<rect x="1469" y="271.92" width="34" height="19.08" fill="#FFF000"/>
<rect x="1469" y="291" width="34" height="19.08" fill="#00F000"/>
<rect x="1469" y="310.08" width="34" height="19.08" fill="#10E030"/>
<rect x="1469" y="329.17" width="34" height="19.08" fill="#18C850"/>
<rect x="1469" y="348.25" width="34" height="19.08" fill="#20B468"/>
<rect x="1469" y="367.33" width="34" height="19.08" fill="#22A080"/>
<rect x="1469" y="386.42" width="34" height="19.08" fill="#28889A"/>
<rect x="1469" y="405.5" width="34" height="19.08" fill="#3070B0"/>
<rect x="1469" y="424.58" width="34" height="19.08" fill="#3C5AD0"/>
<rect x="1469" y="443.67" width="34" height="19.08" fill="#4646E6"/>
<rect x="1469" y="462.75" width="34" height="19.08" fill="#5028F0"/>
<rect x="1469" y="481.83" width="34" height="19.08" fill="#A000F0"/>
<rect x="1469" y="500.92" width="34" height="19.08" fill="#D000F8"/>
</g>
<g font-size="18" fill="#000">
<text x="1510" y="68.5" textLength="10" lengthAdjust="spacingAndGlyphs">3</text>
<text x="1510" y="87.6" textLength="10" lengthAdjust="spacingAndGlyphs">2</text>
<text x="1510" y="106.7" textLength="10" lengthAdjust="spacingAndGlyphs">1</text>
<text x="1510" y="125.8" textLength="27" lengthAdjust="spacingAndGlyphs">0.9</text>
<text x="1510" y="144.8" textLength="27" lengthAdjust="spacingAndGlyphs">0.8</text>
<text x="1510" y="163.9" textLength="27" lengthAdjust="spacingAndGlyphs">0.7</text>
<text x="1510" y="183" textLength="27" lengthAdjust="spacingAndGlyphs">0.6</text>
<text x="1510" y="202.1" textLength="27" lengthAdjust="spacingAndGlyphs">0.5</text>
<text x="1510" y="221.2" textLength="27" lengthAdjust="spacingAndGlyphs">0.4</text>
<text x="1510" y="240.3" textLength="27" lengthAdjust="spacingAndGlyphs">0.3</text>
<text x="1510" y="259.3" textLength="27" lengthAdjust="spacingAndGlyphs">0.2</text>
<text x="1510" y="278.4" textLength="27" lengthAdjust="spacingAndGlyphs">0.1</text>
<text x="1510" y="297.5" textLength="10" lengthAdjust="spacingAndGlyphs">0</text>
<text x="1506" y="316.6" textLength="39" lengthAdjust="spacingAndGlyphs">−0.1</text>
<text x="1506" y="335.7" textLength="39" lengthAdjust="spacingAndGlyphs">−0.2</text>
<text x="1506" y="354.8" textLength="39" lengthAdjust="spacingAndGlyphs">−0.3</text>
<text x="1506" y="373.8" textLength="39" lengthAdjust="spacingAndGlyphs">−0.4</text>
<text x="1506" y="392.9" textLength="39" lengthAdjust="spacingAndGlyphs">−0.5</text>
<text x="1506" y="412" textLength="39" lengthAdjust="spacingAndGlyphs">−0.6</text>
<text x="1506" y="431.1" textLength="39" lengthAdjust="spacingAndGlyphs">−0.7</text>
<text x="1506" y="450.2" textLength="39" lengthAdjust="spacingAndGlyphs">−0.8</text>
<text x="1506" y="469.3" textLength="39" lengthAdjust="spacingAndGlyphs">−0.9</text>
<text x="1506" y="488.3" textLength="23" lengthAdjust="spacingAndGlyphs">−1</text>
<text x="1506" y="507.4" textLength="23" lengthAdjust="spacingAndGlyphs">−2</text>
<text x="1506" y="526.5" textLength="23" lengthAdjust="spacingAndGlyphs">−3</text>
</g>
</svg>
</body></html>
